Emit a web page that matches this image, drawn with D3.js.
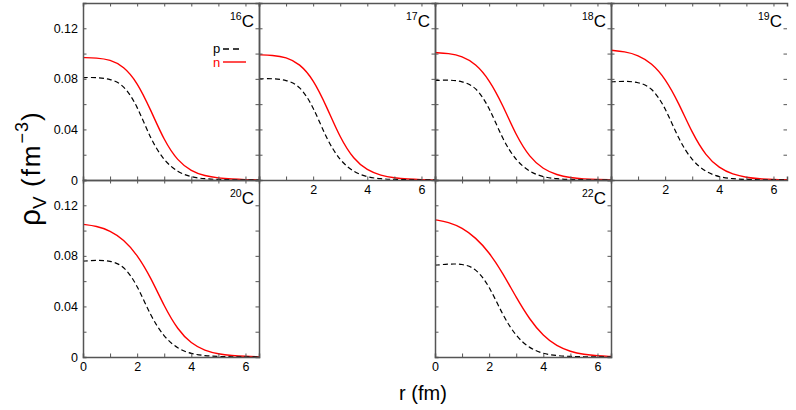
<!DOCTYPE html>
<html><head><meta charset="utf-8">
<script src="https://cdn.jsdelivr.net/npm/d3@7"></script>
<style>
body{margin:0;background:#fff;}
text{font-family:"Liberation Sans",Arial,Helvetica,sans-serif;}
</style></head>
<body>
<script>
// ---- data ----
const rValues = [0,0.5,1,1.5,2,2.5,3,3.5,4,4.5,5,5.5,6,6.5];
const nucleusLabels = ["16","17","18","19","20","22"];
const p16 = [0.0810,0.0812,0.0800,0.0755,0.0590,0.0320,0.0150,0.0062,0.0022,0.0009,0.0004,0.0002,0.0001,0.0001];
const n16 = [0.0968,0.0966,0.0952,0.0900,0.0775,0.0555,0.0310,0.0150,0.0070,0.0032,0.0015,0.0007,0.0003,0.0001];
const p17 = [0.0800,0.0803,0.0792,0.0748,0.0585,0.0320,0.0150,0.0062,0.0022,0.0009,0.0004,0.0002,0.0001,0.0001];
const n17 = [0.0990,0.0987,0.0972,0.0920,0.0798,0.0580,0.0330,0.0162,0.0076,0.0035,0.0016,0.0007,0.0003,0.0001];
const p18 = [0.0787,0.0792,0.0782,0.0740,0.0580,0.0318,0.0150,0.0063,0.0023,0.0009,0.0004,0.0002,0.0001,0.0001];
const n18 = [0.1008,0.1002,0.0980,0.0920,0.0795,0.0595,0.0350,0.0178,0.0085,0.0040,0.0018,0.0008,0.0004,0.0002];
const p19 = [0.0776,0.0782,0.0775,0.0735,0.0578,0.0318,0.0150,0.0063,0.0023,0.0009,0.0004,0.0002,0.0001,0.0001];
const n19 = [0.1026,0.1016,0.0988,0.0925,0.0805,0.0610,0.0370,0.0192,0.0093,0.0044,0.0020,0.0009,0.0004,0.0002];
const p20 = [0.0758,0.0766,0.0762,0.0725,0.0572,0.0322,0.0155,0.0065,0.0024,0.0010,0.0004,0.0002,0.0001,0.0001];
const n20 = [0.1049,0.1036,0.1000,0.0930,0.0810,0.0630,0.0400,0.0215,0.0105,0.0050,0.0024,0.0011,0.0005,0.0002];
const p22 = [0.0726,0.0736,0.0737,0.0705,0.0565,0.0330,0.0160,0.0068,0.0025,0.0010,0.0004,0.0002,0.0001,0.0001];
const n22 = [0.1085,0.1068,0.1022,0.0945,0.0828,0.0665,0.0470,0.0295,0.0165,0.0085,0.0042,0.0020,0.0009,0.0004];
const protonSeries = [p16,p17,p18,p19,p20,p22];
const neutronSeries = [n16,n17,n18,n19,n20,n22];
const xTickValues = [0,1,2,3,4,5,6];
const yTickValues = [0,0.02,0.04,0.06,0.08,0.10,0.12,0.14];
const yLabeled = [0,0.04,0.08,0.12];

// ---- layout ----
const W = 796, H = 410;
const mLeft = 83, mTop = 3, pw = 176, ph = 177;
// panel grid slots: [col,row]
const slots = [[0,0],[1,0],[2,0],[3,0],[0,1],[2,1]];
const frameColor = "#555";

const svg = d3.select("body").append("svg").attr("width",W).attr("height",H);

const x = d3.scaleLinear().domain([0,6.5]).range([0,pw]);
const y = d3.scaleLinear().domain([0,0.14]).range([ph,0]);

const line = d3.line().x((d,i)=>x(rValues[i])).y(d=>y(d))
  .curve(d3.curveBasis);

nucleusLabels.forEach((lab,i)=>{
  const [c,r] = slots[i];
  const g = svg.append("g").attr("transform",`translate(${mLeft+c*pw},${mTop+r*ph})`);
  const showYLabels = c===0;
  const showXLabels = r===1 || (r===0 && (c===1 || c===3));

  // curves
  g.append("path").datum(neutronSeries[i]).attr("d",line)
    .attr("fill","none").attr("stroke","#f00").attr("stroke-width",1.4);
  g.append("path").datum(protonSeries[i]).attr("d",line)
    .attr("fill","none").attr("stroke","#000").attr("stroke-width",1.2)
    .attr("stroke-dasharray","5,3");

  // axes (inward ticks)
  const bottom = g.append("g").attr("transform",`translate(0,${ph})`)
    .call(d3.axisBottom(x).tickValues(xTickValues).tickSize(-3.5).tickPadding(5)
      .tickFormat(d => showXLabels && d%2===0 && !(r===0 && d===0) ? d : ""));
  const topAx = g.append("g")
    .call(d3.axisTop(x).tickValues(xTickValues).tickSize(-3.5).tickFormat(""));
  const leftAx = g.append("g")
    .call(d3.axisLeft(y).tickValues(yTickValues).tickSize(-3.5).tickPadding(5)
      .tickFormat(d => showYLabels && yLabeled.some(v=>Math.abs(v-d)<1e-9) ? (d===0?"0":d3.format(".2f")(d)) : ""));
  const rightAx = g.append("g").attr("transform",`translate(${pw},0)`)
    .call(d3.axisRight(y).tickValues(yTickValues).tickSize(-3.5).tickFormat(""));
  [bottom,topAx,leftAx,rightAx].forEach(a=>{
    a.select(".domain").attr("stroke",frameColor).attr("stroke-width",1.5);
    a.selectAll(".tick line").attr("stroke",frameColor).attr("stroke-width",1);
    a.selectAll(".tick text").attr("font-size",12.5).attr("fill","#000")
      .attr("font-family","'Liberation Sans',Arial,sans-serif");
  });
  if (c===3) rightAx.select(".domain").remove();

  // nucleus label
  const t = g.append("text").attr("x",pw-5).attr("y",24).attr("text-anchor","end")
    .attr("fill","#000");
  t.append("tspan").attr("font-size",10.5).attr("dy",-7).text(lab);
  t.append("tspan").attr("font-size",17).attr("dy",7).text("C");

  // legend in first panel
  if (i===0) {
    g.append("text").attr("x",130).attr("y",50).attr("font-size",13).text("p");
    g.append("line").attr("x1",140).attr("x2",160).attr("y1",46).attr("y2",46)
      .attr("stroke","#000").attr("stroke-width",1.3).attr("stroke-dasharray","6,4");
    g.append("text").attr("x",130).attr("y",64).attr("font-size",13).attr("fill","#f00").text("n");
    g.append("line").attr("x1",140).attr("x2",163).attr("y1",59).attr("y2",59)
      .attr("stroke","#f00").attr("stroke-width",1.4);
  }
});

// axis titles
const yt = svg.append("text").attr("transform","translate(40,226) rotate(-90)")
  .attr("text-anchor","start").attr("fill","#000");
yt.append("tspan").attr("font-size",30).text("ρ");
yt.append("tspan").attr("font-size",19).attr("dy",6).text("V");
yt.append("tspan").attr("font-size",26).attr("dy",-6).attr("letter-spacing",2).text("\u00a0(fm");
yt.append("tspan").attr("font-size",18).attr("dy",-12).attr("letter-spacing",1).text("−3");
yt.append("tspan").attr("font-size",26).attr("dy",12).text(")");

svg.append("text").attr("x",423).attr("y",400).attr("text-anchor","middle")
  .attr("font-size",20).attr("fill","#000").text("r (fm)");
</script>
</body></html>
